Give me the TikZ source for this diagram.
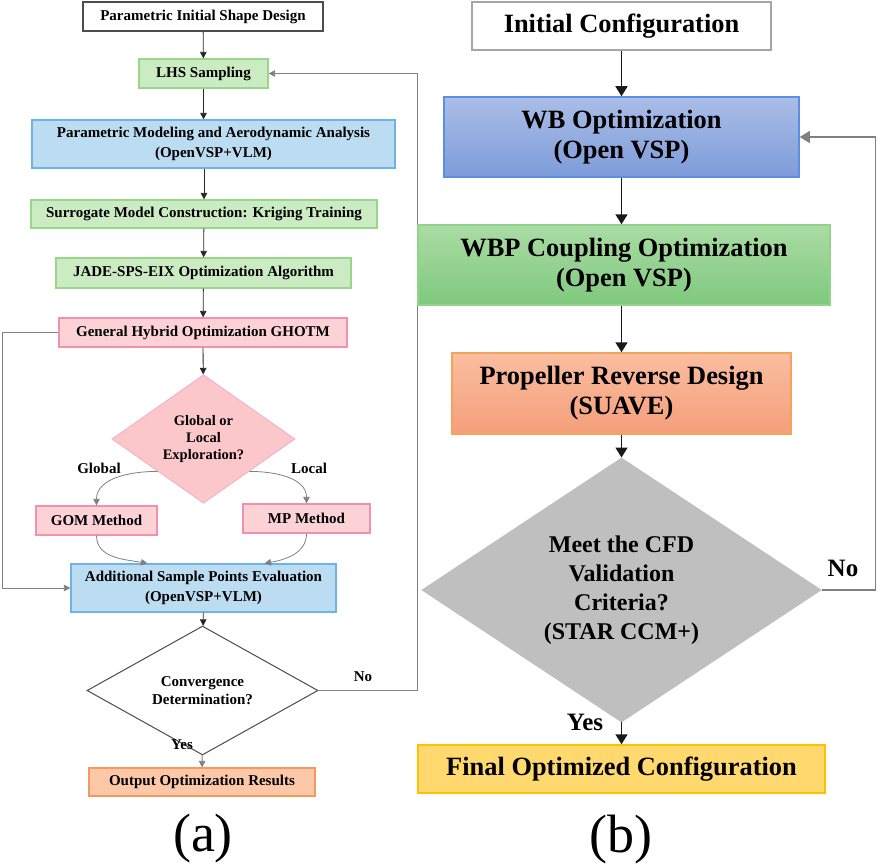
\documentclass[tikz,border=0pt]{standalone}
\usepackage{fontspec}
\setmainfont{Liberation Serif}
\usepackage{tikz}
\usetikzlibrary{arrows.meta}
\usetikzlibrary{shapes.geometric}

\definecolor{agreen}{HTML}{CBECC2}
\definecolor{agreenline}{HTML}{9AD68A}
\definecolor{ablue}{HTML}{BCDCF2}
\definecolor{ablueline}{HTML}{6CB4E8}
\definecolor{apink}{HTML}{FCD2D6}
\definecolor{apinkline}{HTML}{F092AC}
\definecolor{aorange}{HTML}{FCC8A8}
\definecolor{aorangeline}{HTML}{F59A5C}
\definecolor{bbluetop}{HTML}{AABDE7}
\definecolor{bbluebot}{HTML}{7E9CDA}
\definecolor{bblueline}{HTML}{5B8FE4}
\definecolor{bgreentop}{HTML}{AADCA4}
\definecolor{bgreenbot}{HTML}{7FC87E}
\definecolor{bgreenline}{HTML}{92D38C}
\definecolor{borangetop}{HTML}{F9BEA0}
\definecolor{borangebot}{HTML}{F59E7A}
\definecolor{borangeline}{HTML}{F5A25A}
\definecolor{bgray}{HTML}{BFBFBF}
\definecolor{byellow}{HTML}{FFD86E}
\definecolor{byellowline}{HTML}{FFC000}

\tikzset{
  abox/.style={draw, line width=1.2pt, inner sep=0pt, align=center,
    font=\fontsize{15}{20}\selectfont\bfseries},
  bbox/.style={draw, line width=1.5pt, inner sep=0pt, align=center,
    font=\fontsize{26.4}{30}\selectfont\bfseries},
  adiam/.style={diamond, draw, line width=1pt, inner sep=0pt, align=center},
  arra/.style={-{Triangle[width=6.5pt,length=6.5pt]}, line width=0.8pt, draw=black!85},
  arrg/.style={-{Triangle[width=6.5pt,length=6.5pt]}, line width=0.8pt, draw=black!50},
  arrb/.style={-{Triangle[width=12pt,length=10pt]}, line width=1.6pt, draw=black!90},
  arrbg/.style={-{Triangle[width=12pt,length=10pt]}, line width=1.4pt, draw=black!50},
  lbla/.style={font=\fontsize{15}{18}\selectfont\bfseries},
  lblb/.style={font=\fontsize{25}{30}\selectfont\bfseries},
  capt/.style={font=\fontsize{54}{60}\selectfont}
}

\begin{document}
\begin{tikzpicture}[x=1pt,y=1pt]
  \useasboundingbox (0,0) rectangle (879,-867);

  % (a) boxes
  \node[abox, draw=black!70, fill=white, minimum width=240pt, minimum height=29pt] (init) at (203,-16.5) {Parametric Initial Shape Design};
  \node[abox, draw=agreenline, fill=agreen, minimum width=129pt, minimum height=29pt] (lhs) at (203.5,-73.5) {LHS Sampling};
  \node[abox, draw=ablueline, fill=ablue, minimum width=363pt, minimum height=48pt] (pmod) at (213.5,-144) {Parametric Modeling and Aerodynamic Analysis\\(OpenVSP+VLM)};
  \node[abox, draw=agreenline, fill=agreen, minimum width=346pt, minimum height=28pt] (surr) at (204,-214) {Surrogate Model Construction: Kriging Training};
  \node[abox, draw=agreenline, fill=agreen, minimum width=295pt, minimum height=30pt] (jade) at (203.5,-273) {JADE-SPS-EIX Optimization Algorithm};
  \node[abox, draw=apinkline, fill=apink, minimum width=288pt, minimum height=29pt] (ghotm) at (203,-332.5) {General Hybrid Optimization GHOTM};
  \node[adiam, draw=apinkline!70, fill=apink!95!red, minimum width=183pt, minimum height=120pt,
    font=\fontsize{14.5}{17}\selectfont\bfseries] (glob) at (203.5,-439) {Global or\\Local\\Exploration?};
  \node[abox, draw=apinkline, fill=apink, minimum width=121pt, minimum height=29pt] (gom) at (96.5,-520.5) {GOM Method};
  \node[abox, draw=apinkline, fill=apink, minimum width=127pt, minimum height=29pt] (mp) at (306.5,-518.5) {MP Method};
  \node[abox, draw=ablueline, fill=ablue, minimum width=265pt, minimum height=48pt] (add) at (203.5,-588) {Additional Sample Points Evaluation\\(OpenVSP+VLM)};
  \node[adiam, draw=black!70, fill=white, minimum width=231pt, minimum height=93pt,
    font=\fontsize{15}{18}\selectfont\bfseries] (conv) at (202.5,-690.5) {Convergence\\Determination?};
  \node[abox, draw=aorangeline, fill=aorange, minimum width=226pt, minimum height=28pt] (outp) at (202,-782) {Output Optimization Results};

  % (a) labels
  \node[lbla] (lglob) at (99,-468) {Global};
  \node[lbla] (lloc) at (309,-468) {Local};
  \node[lbla] (lno) at (363,-677) {No};
  \node[lbla] (lyes) at (182,-745) {Yes};
  \node[capt] (capa) at (203,-839) {(a)};

  % (a) arrows
  \draw[arra] (init) -- (lhs);
  \draw[arra] (lhs.south) -- (lhs.south |- pmod.north);
  \draw[arra] (surr.north |- pmod.south) -- (surr.north);
  \draw[arra] (surr) -- (jade);
  \draw[arra] (jade) -- (ghotm);
  \draw[arra] (ghotm) -- (glob);
  \draw[arrg] (glob.south west) to[out=180,in=90] (gom.north);
  \draw[arrg] (glob.south east) to[out=0,in=90] (mp.north);
  \draw[arrg] (gom.south) to[out=-90,in=170] ([xshift=-56pt]add.north);
  \draw[arrg] (mp.south) to[out=-90,in=10] ([xshift=61pt]add.north);
  \draw[arrg] (ghotm.west) -- ++(-56,0) |- (add.west);
  \draw[arra] (add) -- (conv);
  \draw[arrg] (conv) -- (outp);
  \draw[arrg] (conv.east) -- ++(99,0) |- (lhs.east);

  % (b) boxes
  \node[bbox, draw=black!35, line width=2pt, fill=white, minimum width=299pt, minimum height=48pt] (cfg) at (621.5,-26) {Initial Configuration};
  \node[bbox, draw=bblueline, top color=bbluetop, bottom color=bbluebot, minimum width=355pt, minimum height=80pt] (wb) at (621.5,-137) {WB Optimization\\(Open VSP)};
  \node[bbox, draw=bgreenline, top color=bgreentop, bottom color=bgreenbot, minimum width=412pt, minimum height=80pt] (wbp) at (624,-265) {WBP Coupling Optimization\\(Open VSP)};
  \node[bbox, draw=borangeline, top color=borangetop, bottom color=borangebot, minimum width=339pt, minimum height=81pt] (prop) at (621.5,-393.5) {Propeller Reverse Design\\(SUAVE)};
  \node[adiam, draw=bgray, fill=bgray, minimum width=399pt, minimum height=216pt,
    font=\fontsize{24}{29}\selectfont\bfseries] (crit) at (621.5,-590) {Meet the CFD\\Validation\\Criteria?\\(STAR CCM+)};
  \node[bbox, draw=byellowline, fill=byellow, minimum width=407pt, minimum height=48pt] (fin) at (621.5,-769) {Final Optimized Configuration};

  % (b) labels
  \node[lblb] (rno) at (843,-568) {No};
  \node[lblb] (ryes) at (585,-722) {Yes};
  \node[capt] (capb) at (621,-840) {(b)};

  % (b) arrows
  \draw[arrb] (cfg) -- (wb);
  \draw[arrb] (wb.south) -- (wb.south |- wbp.north);
  \draw[arrb] (prop.north |- wbp.south) -- (prop.north);
  \draw[arrb] (prop) -- (crit);
  \draw[arrb] (crit) -- (fin);
  \draw[arrbg] (crit.east) -- ++(54,0) |- (wb.east);
\end{tikzpicture}
\end{document}
